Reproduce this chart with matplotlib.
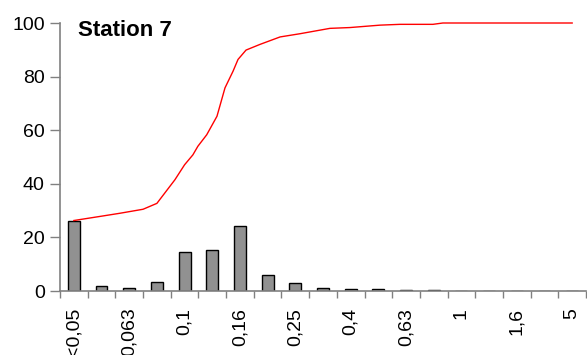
import matplotlib
matplotlib.use("Agg")
import matplotlib.pyplot as plt
import numpy as np

plt.rcParams['font.family'] = ['Liberation Sans', 'DejaVu Sans']

categories = ["<0,05", "0,05", "0,063", "0,08", "0,1", "0,125", "0,16", "0,2",
              "0,25", "0,315", "0,4", "0,5", "0,63", "0,8", "1", "1,25",
              "1,6", "2", "5"]
bar_values = [26.2, 1.9, 1.3, 3.3, 14.4, 15.2, 24.2, 6.1, 2.8, 1.3, 0.9, 0.9,
              0.5, 0.5, 0, 0, 0, 0, 0]

# cumulative curve (x in category-index units)
cum_x = [0.0, 1.05, 1.66, 2.5, 3.0, 3.65, 4.0, 4.3, 4.48, 4.8, 5.17, 5.46,
         5.75, 5.93, 6.22, 6.72, 7.45, 8.17, 9.25, 9.97, 11.06, 11.78, 12.97,
         13.33, 16.37, 18.0]
cum_y = [26.3, 28.0, 29.0, 30.5, 32.7, 41.5, 47.1, 50.8, 54.0, 58.3, 65.2,
         75.8, 82.0, 86.4, 89.9, 92.0, 94.8, 96.0, 98.0, 98.3, 99.2, 99.5,
         99.5, 100.0, 100.0, 100.0]

title = "Station 7"

fig = plt.figure(figsize=(5.87, 3.55), dpi=100)
ax = fig.add_axes([60/587, 64/355, 526/587, (291-23)/355])

x = np.arange(len(categories))
ax.bar(x, bar_values, width=0.43, color="#919191", edgecolor="black",
       linewidth=1.0, zorder=2)
ax.plot(cum_x, cum_y, color="#ff0000", linewidth=1.0, zorder=3, clip_on=False)

ax.set_xlim(-0.5, len(categories) - 0.5)
ax.set_ylim(0, 100)
ax.set_yticks(np.arange(0, 101, 20))

# category labels every other category, centred
ax.set_xticks(x[::2])
ax.set_xticklabels(categories[::2], rotation=90, fontsize=14)
ax.tick_params(axis='x', length=0, pad=12)
# boundary ticks
ax.set_xticks(np.arange(-0.5, len(categories) + 0.5, 1), minor=True)
ax.tick_params(axis='x', which='minor', length=5, color="#808080", width=1.0,
               direction='out')
ax.tick_params(axis='y', length=7, color="#808080", width=1.0, labelsize=14,
               pad=4)

for s in ['top', 'right']:
    ax.spines[s].set_visible(False)
for s in ['left', 'bottom']:
    ax.spines[s].set_color("#808080")
    ax.spines[s].set_linewidth(1.2)

ax.text((78-60)/526, (355-36-64)/(291-23), title, transform=ax.transAxes,
        fontsize=16, fontweight='bold', ha='left', va='baseline')

fig.savefig("out.png", dpi=100)
